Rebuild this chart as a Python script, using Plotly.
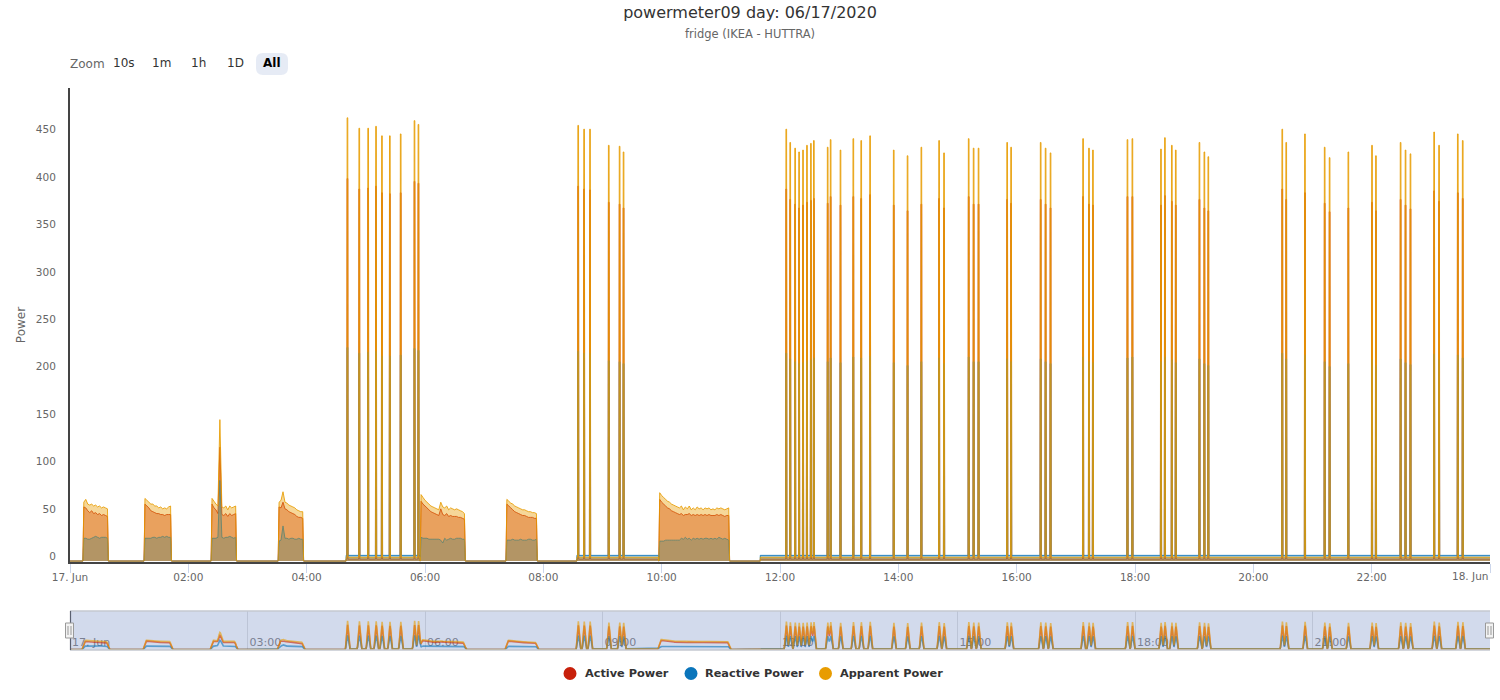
import numpy as np
import pandas as pd
import plotly.graph_objects as go

# ---------- data (watts / var / VA) ----------
spike_times = ["04:41","04:53","05:02","05:10","05:16","05:24","05:35","05:49","05:53",
 "08:35","08:41","08:47","09:06","09:17","09:21",
 "12:06","12:10","12:15","12:19","12:23","12:27","12:31","12:34","12:48","12:51",
 "13:01","13:14","13:22","13:31","13:55","14:09","14:23","14:41","14:46",
 "15:11","15:16","15:21","15:50","15:54","16:24","16:29","16:34",
 "17:07","17:13","17:17","17:52","17:57","18:26","18:30","18:37","18:41",
 "19:05","19:10","19:14","20:29","20:33","20:52","21:12","21:17","21:36",
 "22:00","22:04","22:29","22:34","22:39","23:03","23:08","23:27","23:32"]
spike_apparent = [467,456,456,458,448,448,450,464,460,
 459,455,455,438,437,431,
 455,441,435,431,433,438,440,443,436,444,
 433,445,443,448,433,427,436,443,430,
 445,435,435,441,436,441,435,430,
 445,435,433,444,445,434,446,438,433,
 441,431,426,455,441,450,436,425,431,
 438,427,441,433,429,452,438,450,443]
spike_active = [403,392,393,395,388,387,388,400,398,
 395,392,391,378,376,372,
 392,381,376,372,375,378,380,382,377,384,
 375,384,382,386,375,369,376,382,372,
 384,376,376,381,377,381,376,372,
 384,376,375,384,384,375,385,379,375,
 381,372,369,392,381,388,377,368,372,
 378,369,381,375,371,390,379,388,382]
spike_reactive = [225,219,220,221,216,216,217,224,222,
 221,219,219,211,210,208,
 219,213,210,208,209,211,212,214,210,214,
 209,215,214,216,209,206,210,214,208,
 215,210,210,213,210,213,210,208,
 215,210,209,214,215,210,215,212,209,
 213,208,206,219,213,217,210,205,208,
 212,206,213,209,207,218,212,217,214]

base_segments = [("04:40","05:55"),("08:34","09:57"),("11:40","24:00")]
base_apparent = 4.0
base_active = 2.0
base_reactive = 6.0

hump_starts = ["00:14","01:16","02:24","03:32","05:56","07:23","09:58"]
hump_apparent = [
 [62,65,60,59,60,58,59,57,58,56,57,56,55],
 [66,64,62,60,60,58,58,56,57,55,56,55,57,58],
 [66,63,60,58,149,57,56,58,54,58,56,57,58],
 [62,64,73,62,61,59,58,57,56,54,53,52,52],
 [70,67,64,62,60,58,57,56,55,54,62,57,56,58,54,56,55,54,55,54,53,52,50],
 [65,63,61,60,58,57,56,55,54,54,53,52,52,51,51,50],
 [72,69,67,65,63,62,60,59,58,57,56,58,54,57,55,58,54,56,54,57,55,56,54,56,55,56,54,55,54,56,55,56,55,54,55,56],
]
hump_active = [
 [57,56,53,51,53,50,51,49,50,48,49,48,47],
 [60,58,56,53,52,51,50,50,49,49,48,49,49,49],
 [60,56,54,50,120,49,48,50,47,50,48,49,50],
 [57,56,62,55,54,52,51,50,49,47,46,46,45],
 [63,60,58,56,54,52,51,50,49,48,55,49,48,50,47,48,47,47,47,46,46,45,44],
 [60,58,56,54,52,51,50,49,48,48,47,46,46,46,45,45],
 [65,62,60,58,56,55,53,52,51,50,49,50,48,49,49,50,48,49,48,49,48,49,48,49,48,49,48,48,48,49,48,49,48,47,48,48],
]
hump_reactive = [
 [24,24,23,23,24,25,26,25,24,25,25,25,24],
 [24,24,24,24,25,25,24,25,25,26,25,26,25,25],
 [24,24,24,25,85,25,24,25,25,26,25,24,25],
 [21,22,37,24,24,23,24,24,23,23,24,23,23],
 [25,24,24,24,23,23,23,23,23,23,22,19,24,22,23,24,23,23,24,24,24,23,23],
 [22,22,22,23,22,22,22,23,22,22,22,23,23,22,22,23],
 [21,21,21,22,22,22,22,22,22,22,22,24,23,25,23,24,22,24,23,24,23,24,23,24,24,23,24,23,24,23,25,24,23,24,23,22],
]

series_names = ["Active Power","Reactive Power","Apparent Power"]
series_colors = ["#c8200b","#0a75bb","#e89c00"]
y_tick_values = [0,50,100,150,200,250,300,350,400,450]
x_tick_times = ["00:00","02:00","04:00","06:00","08:00","10:00","12:00","14:00","16:00","18:00","20:00","22:00","24:00"]
x_tick_text = ["17. Jun","02:00","04:00","06:00","08:00","10:00","12:00","14:00","16:00","18:00","20:00","22:00",""]
nav_tick_times = ["00:00","03:00","06:00","09:00","12:00","15:00","18:00","21:00"]
nav_tick_text = ["17. Jun","03:00","06:00","09:00","12:00","15:00","18:00","21:00"]

# ---------- assemble ----------
def mins(s):
    h, m = s.split(":")
    return int(h) * 60 + int(m)

def stamp(m):
    return pd.Timestamp("2020-06-17") + pd.to_timedelta(np.asarray(m, dtype=float), unit="min")

def build(base, spikes, humps):
    pts = [(0.0, 0.0), (1440.0, base)]
    for a, b in base_segments:
        a, b = mins(a), mins(b)
        pts += [(a - 0.02, 0.0), (a, base), (b, base), (b + 0.02, 0.0)]
    pts = [p for p in pts if p[0] <= 1440]
    for s, v in zip(spike_times, spikes):
        t = mins(s)
        pts += [(t - 0.25, base), (t, v), (t + 0.7, v), (t + 0.95, base)]
    for s, vals in zip(hump_starts, humps):
        t0 = mins(s)
        pts += [(t0 - 0.9, 0.0)]
        for i, v in enumerate(vals):
            pts.append((t0 + 2 * i, v))
        pts.append((t0 + 2 * (len(vals) - 1) + 0.9, 0.0))
    pts.sort(key=lambda p: p[0])
    return np.array([p[0] for p in pts]), np.array([p[1] for p in pts])

main = [build(base_active, spike_active, hump_active),
        build(base_reactive, spike_reactive, hump_reactive),
        build(base_apparent, spike_apparent, hump_apparent)]

def overview(t, v):
    # the navigator shows grouped data: a running mean over the raw series, applied twice
    grid = np.arange(0, 1440.01, 0.1)
    raw = np.interp(grid, t, v)
    n = 20
    kernel = np.ones(n) / n
    padded = np.concatenate([np.full(2 * n, raw[0]), raw, np.full(2 * n, raw[-1])])
    smooth = np.convolve(np.convolve(padded, kernel, mode="same"), kernel, mode="same")[2 * n:-2 * n]
    return grid[::5], smooth[::5]

def rgba(h, a):
    return f"rgba({int(h[1:3],16)},{int(h[3:5],16)},{int(h[5:7],16)},{a})"

def px(x): return (x - 70) / 1420
def py(y): return (650 - y) / 562

fig = go.Figure()
for (t, v), name, col in zip(main, series_names, series_colors):
    fig.add_trace(go.Scatter(x=stamp(t), y=v, mode="lines", name=name, showlegend=False,
                             line=dict(color=rgba(col, 0.85), width=1, simplify=False), fill="tozeroy",
                             fillcolor=rgba(col, 0.4), xaxis="x", yaxis="y", hoverinfo="skip"))
for (t, v), name, col in zip(main, series_names, series_colors):
    gt, gv = overview(t, v)
    fig.add_trace(go.Scatter(x=stamp(gt), y=gv, mode="lines", name=name, showlegend=False,
                             line=dict(color=rgba(col, 0.6), width=1.6),
                             xaxis="x2", yaxis="y2", hoverinfo="skip"))

font = "DejaVu Sans"
anns = [dict(text="fridge (IKEA - HUTTRA)", x=750, y=33.5, font=dict(size=11.5, color="#666666")),
        dict(text="Zoom", x=87.5, y=64, font=dict(size=12, color="#666666")),
        dict(text="10s", x=124, y=63, font=dict(size=12, color="#333333")),
        dict(text="1m", x=161, y=63, font=dict(size=12, color="#333333")),
        dict(text="1h", x=198, y=63, font=dict(size=12, color="#333333")),
        dict(text="1D", x=235, y=63, font=dict(size=12, color="#333333")),
        dict(text="<b>All</b>", x=272, y=63, font=dict(size=12, color="#000000"))]
annotations = []
for a in anns:
    annotations.append(dict(text=a["text"], x=px(a["x"]), y=py(a["y"]), xref="paper", yref="paper",
                            xanchor="center", yanchor="middle", showarrow=False, font=a["font"]))
annotations.append(dict(text="18. Jun", x=px(1490), y=py(576), xref="paper", yref="paper",
                        xanchor="right", yanchor="middle", showarrow=False,
                        font=dict(size=10.5, color="#666666")))

def rrect(x0, y0, x1, y1, r):
    X0, X1 = px(x0), px(x1)
    Y0, Y1 = py(y0), py(y1)
    rx, ry = r / 1420, r / 562
    return (f"M{X0+rx},{Y0} L{X1-rx},{Y0} Q{X1},{Y0} {X1},{Y0-ry} L{X1},{Y1+ry} Q{X1},{Y1} {X1-rx},{Y1} "
            f"L{X0+rx},{Y1} Q{X0},{Y1} {X0},{Y1+ry} L{X0},{Y0-ry} Q{X0},{Y0} {X0+rx},{Y0} Z")

shapes = [
    dict(type="path", path=rrect(256, 53, 288, 75, 7), xref="paper", yref="paper",
         fillcolor="#e6ebf5", line=dict(width=0), layer="below"),
    dict(type="rect", xref="x2 domain", yref="y2 domain", x0=0, x1=1, y0=0, y1=1,
         fillcolor="#d2daec", line=dict(width=0), layer="below"),
    dict(type="line", xref="paper", yref="paper", x0=px(70), x1=px(1490), y0=py(611), y1=py(611),
         line=dict(color="#c4c8d0", width=1.5)),
    dict(type="line", xref="paper", yref="paper", x0=px(70), x1=px(1490), y0=py(650), y1=py(650),
         line=dict(color="#c4c8d0", width=1.5)),
    dict(type="line", xref="paper", yref="paper", x0=px(70.5), x1=px(70.5), y0=py(611), y1=py(650),
         line=dict(color="#5a6070", width=1.2)),
]
for hx in (69.5, 1489.5):
    shapes.append(dict(type="rect", xref="paper", yref="paper", x0=px(hx - 4), x1=px(hx + 4),
                       y0=py(638), y1=py(623), fillcolor="#f2f2f2",
                       line=dict(color="#999999", width=1)))
    for dx in (-1.5, 1.5):
        shapes.append(dict(type="line", xref="paper", yref="paper", x0=px(hx + dx), x1=px(hx + dx),
                           y0=py(635), y1=py(626), line=dict(color="#999999", width=1)))

# legend: round markers and labels at the original spots
for name, col, cx, tx in zip(series_names, series_colors, (570, 691, 825.5), (583, 703, 838)):
    shapes.append(dict(type="circle", xref="paper", yref="paper", x0=px(cx - 6.5), x1=px(cx + 6.5),
                       y0=py(673.5 + 6.5), y1=py(673.5 - 6.5), fillcolor=col, line=dict(width=0)))
    annotations.append(dict(text=f"<b>{name}</b>", x=px(tx), y=py(673.5), xref="paper", yref="paper",
                            xanchor="left", yanchor="middle", showarrow=False,
                            font=dict(size=11.3, color="#333333")))

tick_offset = 4.7  # the original draws its y labels slightly above their tick position
fig.update_layout(
    width=1500, height=700, autosize=False,
    margin=dict(l=70, r=10, t=88, b=50),
    paper_bgcolor="white", plot_bgcolor="white", showlegend=False,
    font=dict(family=font, size=11, color="#666666"),
    title=dict(text="powermeter09 day: 06/17/2020", x=0.5, xanchor="center", xref="container",
               y=1 - 12 / 700, yanchor="middle", yref="container",
               font=dict(family=font, size=16, color="#333333")),
    xaxis=dict(domain=[0, 1], anchor="y", type="date",
               range=[stamp(0), stamp(1440)],
               tickmode="array", tickvals=[stamp(mins(s)) for s in x_tick_times], ticktext=x_tick_text,
               ticks="outside", ticklen=9, tickcolor="#ccd6eb", tickwidth=1, ticklabelstandoff=-5,
               showgrid=False, zeroline=False, showline=True, linecolor="#444444", linewidth=2,
               tickfont=dict(size=10.5, color="#666666")),
    yaxis=dict(domain=[py(562), 1], anchor="x", range=[-1, 498.4],
               tickmode="array", tickvals=[v + tick_offset for v in y_tick_values],
               ticktext=[str(v) for v in y_tick_values],
               showgrid=False, zeroline=False, showline=True, linecolor="#444444", linewidth=2,
               ticks="", ticklabelstandoff=10, tickfont=dict(size=10.5, color="#666666"),
               title=dict(text="Power", standoff=8, font=dict(size=12, color="#666666"))),
    xaxis2=dict(domain=[0, 1], anchor="y2", type="date", range=[stamp(0), stamp(1440)],
                tickmode="array", tickvals=[stamp(mins(s)) for s in nav_tick_times], ticktext=nav_tick_text,
                ticks="", showgrid=True, gridcolor="#bcc4d6", gridwidth=1, zeroline=False, showline=False,
                ticklabelposition="inside right", layer="below traces", ticklabelshift=2, ticklabelstandoff=-4,
                tickfont=dict(size=11, color="#7a8092")),
    yaxis2=dict(domain=[0, py(611)], anchor="x2", range=[-3, 266], visible=False),
    annotations=annotations, shapes=shapes,
)

fig.write_html("out.html", post_script="document.body.style.margin='0';",
               config={"displayModeBar": False})
